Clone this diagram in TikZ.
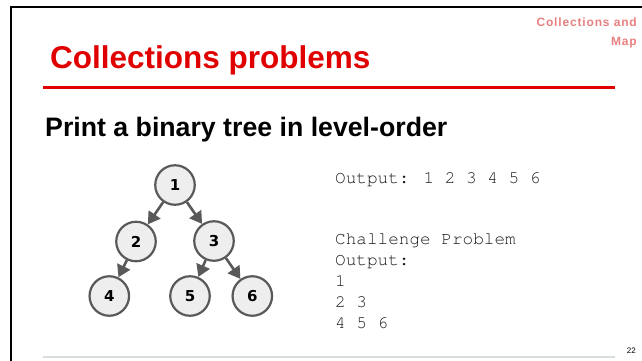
\documentclass[tikz,border=0pt]{standalone}
\usepackage{fontspec}
\setmainfont{Liberation Sans}
\newfontfamily\monofont{TeX Gyre Cursor}
\newfontfamily\treefont{DejaVu Sans}
\usetikzlibrary{arrows.meta}
\definecolor{titlered}{RGB}{224,0,0}
\definecolor{pinkred}{RGB}{232,128,128}
\definecolor{nodegray}{RGB}{238,238,238}
\definecolor{edgegray}{RGB}{89,89,89}
\definecolor{codegray}{RGB}{25,25,25}
\definecolor{footgray}{RGB}{216,221,221}
\tikzset{
  treenode/.style={circle, draw=edgegray, fill=nodegray, line width=2.2pt, minimum size=39.5pt, inner sep=0pt,
    font=\treefont\bfseries\fontsize{15}{17}\selectfont, text=black},
  treeedge/.style={draw=edgegray, line width=2.6pt, -{Triangle[length=12pt,width=14pt]}},
  codeline/.style={anchor=base west, inner sep=0pt, text=codegray, font=\monofont\fontsize{17.7}{20}\selectfont},
}
\begin{document}
\begin{tikzpicture}[x=1pt,y=-1pt]
\useasboundingbox (0,0) rectangle (642,360);
\fill[white] (0,0) rectangle (642,360);
% frame
\draw[line width=2pt] (11,361) -- (11,6.7) -- (643,6.7);
% top-right tag
\node[anchor=base east, inner sep=0pt, text=pinkred, font=\bfseries\fontsize{12}{14}\selectfont\addfontfeature{LetterSpace=7}] (tag1) at (637,26) {Collections and};
\node[anchor=base east, inner sep=0pt, text=pinkred, font=\bfseries\fontsize{12}{14}\selectfont\addfontfeature{LetterSpace=7}] (tag2) at (637,45) {Map};
% title
\node[anchor=base west, inner sep=0pt, text=titlered, font=\bfseries\fontsize{31.5}{38}\selectfont] (title) at (50,68.3) {Collections problems};
\draw[titlered, line width=2.7pt] (43.3,87.3) -- (615,87.3);
% subtitle
\node[anchor=base west, inner sep=0pt, font=\bfseries\fontsize{26.7}{32}\selectfont] (sub) at (45,136) {Print a binary tree in level-order};
% tree
\node[treenode] (n1) at (175,185) {1};
\node[treenode] (n2) at (136,241.5) {2};
\node[treenode] (n3) at (214,241) {3};
\node[treenode] (n4) at (109.3,296) {4};
\node[treenode] (n5) at (190,296) {5};
\node[treenode] (n6) at (252.3,296) {6};
\draw[treeedge] (n1) -- (n2);
\draw[treeedge] (n1) -- (n3);
\draw[treeedge] (n2) -- (n4);
\draw[treeedge] (n3) -- (n5);
\draw[treeedge] (n3) -- (n6);
% code text
\node[codeline] (o1) at (335,183.3) {Output: 1 2 3 4 5 6};
\node[codeline] (c1) at (335,244) {Challenge Problem};
\node[codeline] (c2) at (335,265) {Output:};
\node[codeline] (c3) at (335,286.5) {1};
\node[codeline] (c4) at (335,307.5) {2 3};
\node[codeline] (c5) at (335,328) {4 5 6};
% footer
\draw[footgray, line width=2.5pt] (43.3,356.8) -- (615,356.8);
\node[anchor=base east, inner sep=0pt, font=\fontsize{8}{9}\selectfont] (pnum) at (636,353) {22};
\end{tikzpicture}
\end{document}
